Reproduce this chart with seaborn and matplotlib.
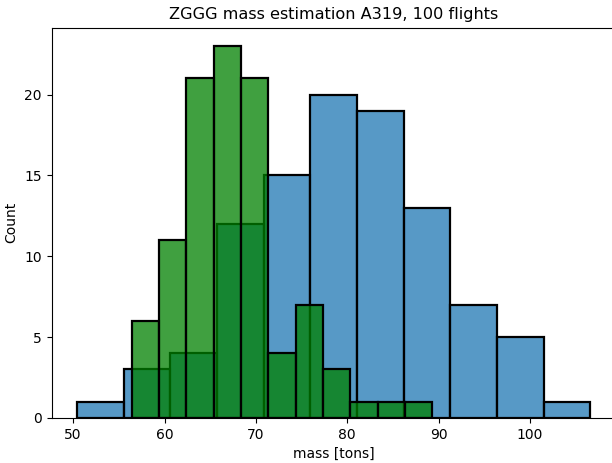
import matplotlib
matplotlib.use("Agg")
import matplotlib.pyplot as plt
import numpy as np
import seaborn as sns

# Bin edges (tons) and per-bin flight counts for the two mass estimates
blue_edges = [50.44, 55.55, 60.65, 65.76, 70.86, 75.97, 81.08, 86.18,
              91.29, 96.39, 101.50, 106.60]
blue_counts = [1, 3, 4, 12, 15, 20, 19, 13, 7, 5, 1]

green_edges = [56.40, 59.39, 62.38, 65.37, 68.36, 71.35, 74.34, 77.33,
               80.32, 83.31, 86.30, 89.29]
green_counts = [6, 11, 21, 23, 21, 4, 7, 3, 1, 1, 1]

title = "ZGGG mass estimation A319, 100 flights"
xlabel = "mass [tons]"
ylabel = "Count"


def centers(edges):
    e = np.asarray(edges)
    return (e[:-1] + e[1:]) / 2


fig = plt.figure(figsize=(6.12, 4.63), dpi=100)
ax = fig.add_axes([0.0842, 0.0972, 0.9223, 0.8434])

sns.histplot(x=centers(blue_edges), weights=blue_counts, bins=blue_edges,
             color="C0", edgecolor="black", linewidth=1.6, ax=ax)
sns.histplot(x=centers(green_edges), weights=green_counts, bins=green_edges,
             color="green", edgecolor="black", linewidth=1.6, ax=ax)

ax.set_title(title, fontsize=11.6)
ax.set_xlabel(xlabel)
ax.set_ylabel(ylabel)
ax.set_yticks([0, 5, 10, 15, 20])
ax.set_xticks([50, 60, 70, 80, 90, 100])

fig.savefig("out.png", dpi=100)
